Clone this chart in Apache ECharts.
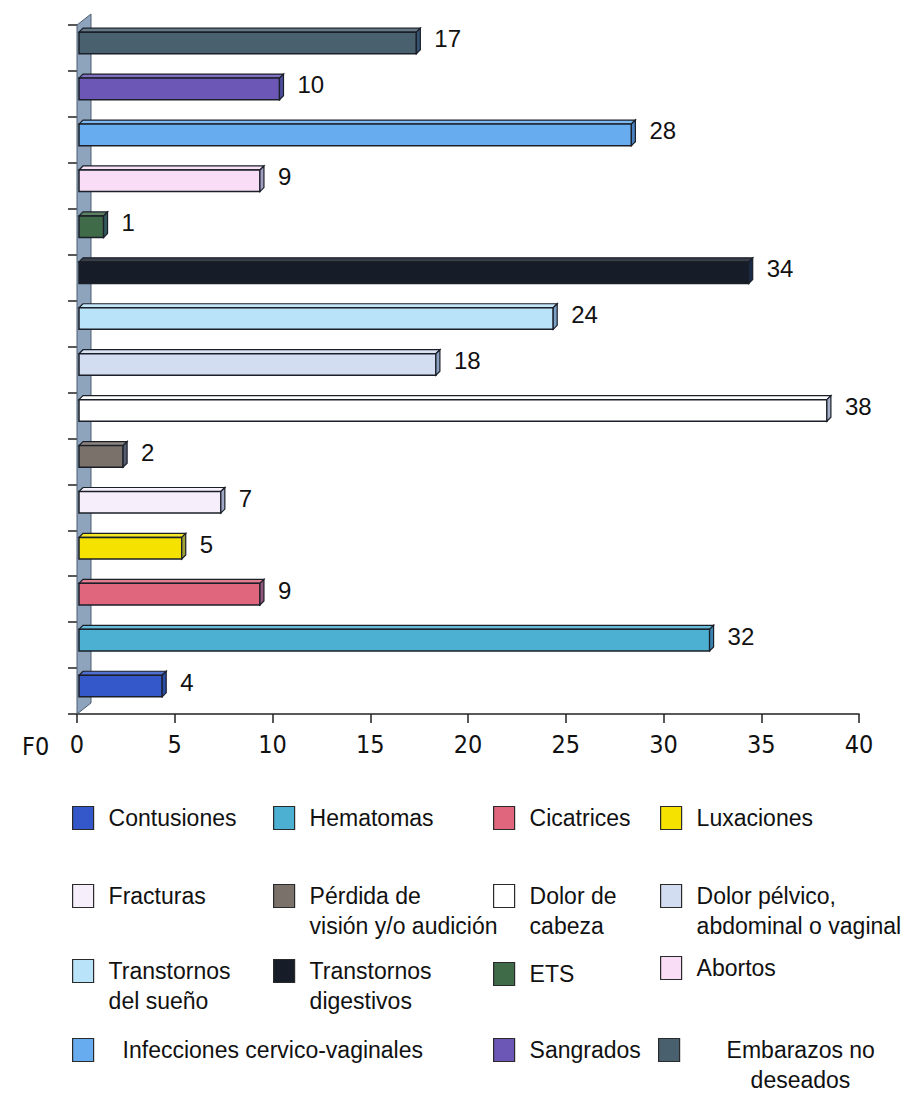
<!DOCTYPE html>
<html>
<head>
<meta charset="utf-8">
<script src="https://cdn.jsdelivr.net/npm/echarts@6/dist/echarts.min.js"></script>
<style>html,body{margin:0;padding:0;background:#fff;}#chart{width:910px;height:1093px;}</style>
</head>
<body>
<div id="chart"></div>
<script>
// ---- data ----
const categories = ['Contusiones','Hematomas','Cicatrices','Luxaciones','Fracturas',
  'Pérdida de visión y/o audición','Dolor de cabeza','Dolor pélvico, abdominal o vaginal',
  'Transtornos del sueño','Transtornos digestivos','ETS','Abortos',
  'Infecciones cervico-vaginales','Sangrados','Embarazos no deseados'];
const values = [4, 32, 9, 5, 7, 2, 38, 18, 24, 34, 1, 9, 28, 10, 17];
const legendLabels = ['Contusiones','Hematomas','Cicatrices','Luxaciones','Fracturas',
  'Pérdida de\nvisión y/o audición','Dolor de\ncabeza','Dolor pélvico,\nabdominal o vaginal',
  'Transtornos\ndel sueño','Transtornos\ndigestivos','ETS','Abortos',
  'Infecciones cervico-vaginales','Sangrados','Embarazos no\ndeseados'];
const xMin = 0, xMax = 40, xStep = 5;
const axisCornerLabel = 'F0';

// ---- styles ----
const colors = ['#3457c9','#4cb0d2','#e0667e','#f6e200','#f6eefa','#7b716b','#ffffff','#d2ddf1',
  '#b8e3f8','#161d29','#3f6b48','#f9ddf6','#66acee','#6d57b6','#49616e'];
// legend layout: [icon left, first-line center y]
const legendLayout = [[72,818],[273,818],[493,818],[660,818],
  [72,896],[273,896],[493,896],[660,896],
  [72,971],[273,971],[493,974],[660,968],
  [72,1050],[493,1050],[658,1050]];
const LH = 30;
const FONT = '"Liberation Sans", Arial, sans-serif';
const NARROW = '"Liberation Sans Narrow", "Arial Narrow", "DejaVu Sans Condensed", sans-serif';

function mix(c1, c2, t) {
  const a = parseInt(c1.slice(1), 16), b = parseInt(c2.slice(1), 16);
  const r = Math.round(((a >> 16) & 255) * (1 - t) + ((b >> 16) & 255) * t);
  const g = Math.round(((a >> 8) & 255) * (1 - t) + ((b >> 8) & 255) * t);
  const bl = Math.round((a & 255) * (1 - t) + (b & 255) * t);
  return 'rgb(' + r + ',' + g + ',' + bl + ')';
}

function makeBarRender(color) {
  return function (params, api) {
    const v = api.value(0), idx = api.value(1);
    const p0 = api.coord([0, idx]);
    const p1 = api.coord([v, idx]);
    const band = api.size([0, 1])[1];
    const fh = band * 0.47, dep = 4, lift = 5;
    const x0 = p0[0] + 2, x1 = p1[0] + 7;
    const yc = p1[1] - lift, top = yc - fh / 2, bot = yc + fh / 2;
    const stroke = '#1a1f28';
    return {
      type: 'group',
      children: [
        { type: 'polygon', shape: { points: [[x0, top], [x1, top], [x1 + dep, top - dep], [x0 + dep, top - dep]] },
          style: { fill: mix(color, '#ffffff', 0.15), stroke: stroke, lineWidth: 1.2 } },
        { type: 'rect', shape: { x: x0, y: top, width: x1 - x0, height: fh },
          style: { fill: color, stroke: stroke, lineWidth: 1.5 } },
        { type: 'polygon', shape: { points: [[x1, top], [x1 + dep, top - dep], [x1 + dep, bot - dep], [x1, bot]] },
          style: { fill: mix(color, '#1f3f77', 0.4), stroke: stroke, lineWidth: 1.2 } },
        { type: 'text', style: { text: String(v), x: x1 + dep + 14, y: yc - 4, verticalAlign: 'middle',
          fontSize: 24, fontFamily: FONT, fill: '#111' } }
      ]
    };
  };
}

const series = [{
  type: 'custom', name: '__wall', z: 1, silent: true,
  data: [[0, 0]],
  renderItem: function (params, api) {
    const cs = params.coordSys;
    const x = cs.x, y = cs.y, h = cs.height;
    return { type: 'polygon', shape: { points: [[x, y + h], [x, y], [x + 14, y - 11], [x + 14, y + h - 11]] },
      style: { fill: '#8ea4bc', stroke: '#4d5d70', lineWidth: 1 } };
  }
}];
categories.forEach(function (name, i) {
  series.push({
    type: 'custom', name: name, z: 3,
    itemStyle: { color: colors[i] },
    encode: { x: 0, y: 1 },
    data: [[values[i], i]],
    renderItem: makeBarRender(colors[i])
  });
});

const tokenStyle = function (padLeft) {
  return { fontSize: 23, fontFamily: FONT, color: '#111', lineHeight: LH, padding: [0, 0, 0, padLeft] };
};

const legends = categories.map(function (name, i) {
  const label = legendLabels[i];
  const lines = label.split('\n');
  const multi = lines.length > 1;
  const pos = legendLayout[i];
  let padLeft = 10;
  if (name === 'Infecciones cervico-vaginales') padLeft = 24;
  const rich = { a: tokenStyle(padLeft), b: tokenStyle(padLeft) };
  if (name === 'Embarazos no deseados') {
    rich.a = tokenStyle(42);
    rich.b = tokenStyle(66);
  }
  const text = multi ? '{a|' + lines[0] + '}\n{b|' + lines[1] + '}' : '{a|' + lines[0] + '}';
  return {
    data: [name], left: pos[0], top: pos[1] - (multi ? 1.5 * LH : LH / 2),
    padding: 0, icon: 'rect', itemWidth: 21, itemHeight: 23, selectedMode: false,
    itemStyle: { borderColor: '#2a2a2a', borderWidth: 1.2 },
    textStyle: { fontSize: 23, fontFamily: FONT, color: '#111', lineHeight: LH,
      padding: [multi ? LH : 0, 0, 0, 0], rich: rich },
    formatter: function () { return text; }
  };
});

const chart = echarts.init(document.getElementById('chart'), null, { renderer: 'svg' });
chart.setOption({
  backgroundColor: '#ffffff',
  animation: false,
  title: { text: axisCornerLabel, left: 22, top: 734, padding: 0,
    textStyle: { fontSize: 25, fontWeight: 'normal', fontFamily: NARROW, color: '#111' } },
  grid: { left: 77, right: 51, top: 25, bottom: 379 },
  legend: legends,
  xAxis: {
    type: 'value', min: xMin, max: xMax, interval: xStep,
    axisLine: { show: true, lineStyle: { color: '#222', width: 1.5 } },
    axisTick: { show: true, length: 9, lineStyle: { color: '#222', width: 1.5 } },
    splitLine: { show: false },
    axisLabel: { margin: 18, fontSize: 25, fontFamily: NARROW, color: '#111' }
  },
  yAxis: {
    type: 'category', data: categories,
    axisLine: { show: true, lineStyle: { color: '#4d5d70' } },
    axisTick: { show: true, length: 9, lineStyle: { color: '#222', width: 1.5 } },
    axisLabel: { show: false },
    splitLine: { show: false }
  },
  series: series
});
</script>
</body>
</html>
